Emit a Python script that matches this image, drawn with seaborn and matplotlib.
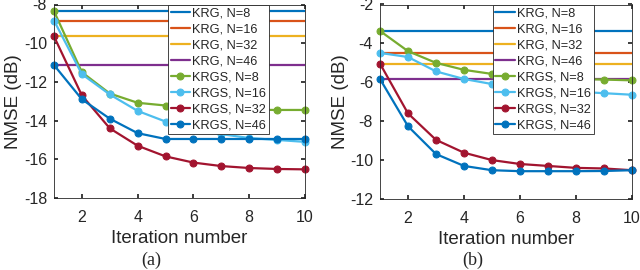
import numpy as np
import pandas as pd
import matplotlib
matplotlib.use("Agg")
import matplotlib.pyplot as plt
import seaborn as sns

sns.set_theme(style="white")
plt.rcParams['font.family'] = ['Liberation Sans', 'DejaVu Sans']

iterations = [1, 2, 3, 4, 5, 6, 7, 8, 9, 10]
krg_labels = ["KRG, N=8", "KRG, N=16", "KRG, N=32", "KRG, N=46"]
krgs_labels = ["KRGS, N=8", "KRGS, N=16", "KRGS, N=32", "KRGS, N=46"]

# Panel (a)
krg_a = [-8.35, -8.83, -9.65, -11.13]
krgs_a_n8 = [-8.35, -11.5, -12.6, -13.08, -13.22, -13.33, -13.4, -13.44, -13.45, -13.45]
krgs_a_n16 = [-8.83, -11.6, -12.65, -13.5, -14.05, -14.4, -14.7, -14.9, -15.0, -15.1]
krgs_a_n32 = [-9.65, -12.7, -14.4, -15.3, -15.85, -16.17, -16.35, -16.45, -16.5, -16.52]
krgs_a_n46 = [-11.13, -12.9, -13.9, -14.65, -14.95, -14.95, -14.95, -14.95, -14.95, -14.95]

# Panel (b)
krg_b = [-3.36, -4.49, -5.04, -5.83]
krgs_b_n8 = [-3.36, -4.4, -5.0, -5.36, -5.57, -5.7, -5.78, -5.83, -5.86, -5.9]
krgs_b_n16 = [-4.49, -4.7, -5.44, -5.83, -6.09, -6.25, -6.38, -6.48, -6.56, -6.64]
krgs_b_n32 = [-5.04, -7.6, -8.96, -9.62, -10.0, -10.2, -10.3, -10.4, -10.43, -10.52]
krgs_b_n46 = [-5.83, -8.26, -9.69, -10.3, -10.52, -10.57, -10.57, -10.57, -10.56, -10.52]

krg_colors = ["#0072BD", "#D95319", "#EDB120", "#7E2F8E"]
krgs_colors = ["#77AC30", "#4DBEEE", "#A2142F", "#0072BD"]

fig = plt.figure(figsize=(6.4, 2.7), dpi=100)
ax_a = fig.add_axes([54/640, 1-198/270, 251/640, (198-4.5)/270])
ax_b = fig.add_axes([380/640, 1-199/270, 252/640, (199-4.5)/270])


def draw(ax, krg, krgs, ylim, yticks, legx, caption, capx):
    for val, lab, col in zip(krg, krg_labels, krg_colors):
        sns.lineplot(x=iterations, y=[val] * len(iterations), ax=ax, color=col,
                     lw=1.6, label=lab)
    for ys, lab, col in zip(krgs, krgs_labels, krgs_colors):
        sns.lineplot(x=iterations, y=ys, ax=ax, color=col, lw=1.6, marker="o",
                     markersize=5, markeredgecolor=col, label=lab, clip_on=False)
    ax.set_xlim(1, 10)
    ax.set_ylim(*ylim)
    ax.set_xticks([2, 4, 6, 8, 10])
    ax.set_yticks(yticks)
    ax.set_yticklabels([f"{t:g}" for t in yticks])
    ax.tick_params(direction="in", length=3, labelsize=11.5, colors="#262626",
                   left=True, bottom=True, right=True, top=True,
                   labelright=False, labeltop=False)
    ax.tick_params(axis="x", pad=8.5)
    ax.tick_params(axis="y", pad=5)
    for s in ax.spines.values():
        s.set_color("#262626")
        s.set_linewidth(0.6)
    ax.set_xlabel("Iteration number", fontsize=13.5, color="#262626", labelpad=4)
    ax.set_ylabel("NMSE (dB)", fontsize=13.5, color="#262626", labelpad=1)
    leg = ax.legend(loc="upper left", bbox_to_anchor=(legx, 1.0), fontsize=9.2,
                    frameon=True, fancybox=False, framealpha=1, edgecolor="#262626",
                    handlelength=1.56, handletextpad=0.15, borderpad=0.2,
                    labelspacing=0.32, borderaxespad=0.0)
    leg.get_frame().set_linewidth(0.6)
    leg.set_zorder(10)
    fig.text(capx / 640, 1 - 260 / 270, caption, ha="center", va="center",
             fontsize=13, family="Liberation Serif")


draw(ax_a, krg_a, [krgs_a_n8, krgs_a_n16, krgs_a_n32, krgs_a_n46],
     (-18, -8), [-18, -16, -14, -12, -10, -8], 0.454, "(a)", 151)
draw(ax_b, krg_b, [krgs_b_n8, krgs_b_n16, krgs_b_n32, krgs_b_n46],
     (-12, -2), [-12, -10, -8, -6, -4, -2], 0.448, "(b)", 473)

fig.savefig("out.png", dpi=100)
